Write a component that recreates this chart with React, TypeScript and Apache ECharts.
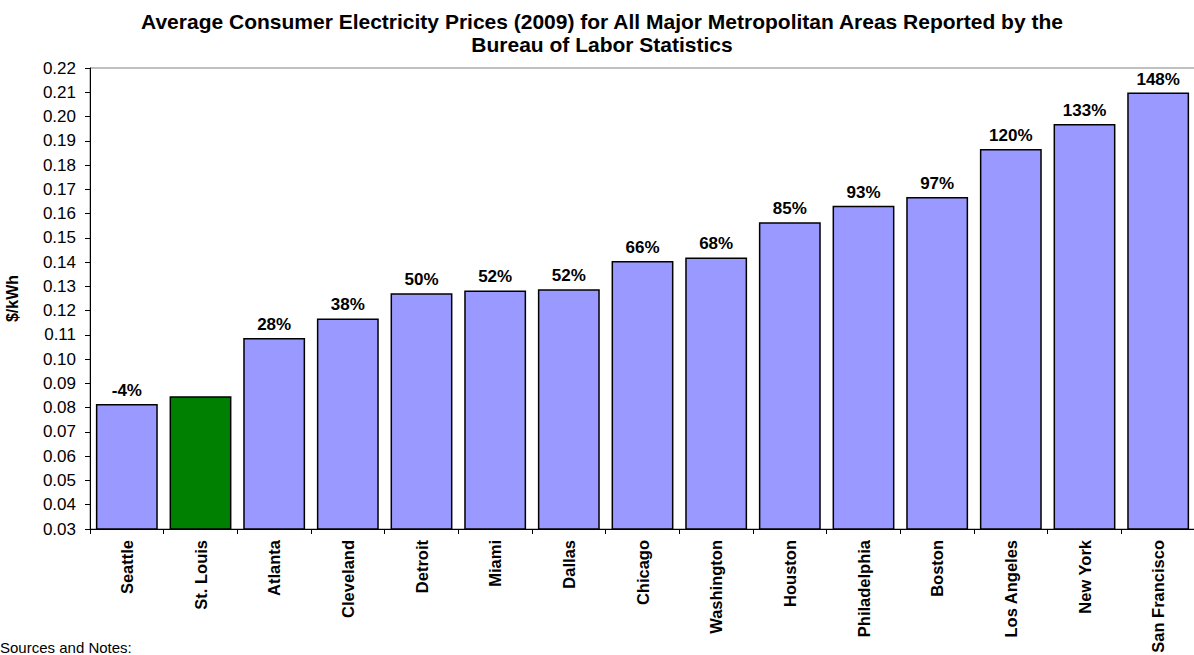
import React, { useEffect, useRef } from "react";
import * as echarts from "echarts";

const cities = [
  "Seattle", "St. Louis", "Atlanta", "Cleveland", "Detroit", "Miami", "Dallas",
  "Chicago", "Washington", "Houston", "Philadelphia", "Boston", "Los Angeles",
  "New York", "San Francisco",
];
const prices = [
  0.0815, 0.0847, 0.1087, 0.1168, 0.1272, 0.1283, 0.1288, 0.1405, 0.1419,
  0.1564, 0.1632, 0.1668, 0.1866, 0.1969, 0.2099,
];
const pctLabels = [
  "-4%", "", "28%", "38%", "50%", "52%", "52%", "66%", "68%", "85%", "93%",
  "97%", "120%", "133%", "148%",
];
const highlightCity = "St. Louis";
const yTicksMin = 0.03;
const yTicksMax = 0.22;
const yTickStep = 0.01;

export default function App() {
  const ref = useRef<HTMLDivElement>(null);
  useEffect(() => {
    if (!ref.current) return;
    const chart = echarts.init(ref.current, undefined, { renderer: "svg" });
    const font = "'Liberation Sans', Arial, sans-serif";
    chart.setOption({
      animation: false,
      backgroundColor: "#ffffff",
      textStyle: { fontFamily: font },
      title: {
        text: "Average Consumer Electricity Prices (2009) for All Major Metropolitan Areas Reported by the\nBureau of Labor Statistics",
        left: 597,
        textAlign: "center",
        top: 5,
        textStyle: {
          fontFamily: font,
          fontSize: 21,
          fontWeight: "bold",
          color: "#000",
          lineHeight: 23,
          align: "center",
        },
      },
      grid: {
        left: 90,
        top: 68,
        width: 1105,
        height: 461,
        show: true,
        borderColor: "#808080",
        borderWidth: 1,
        containLabel: false,
        outerBoundsMode: "none",
      },
      xAxis: {
        type: "category",
        data: cities,
        axisLine: { lineStyle: { color: "#000", width: 1 } },
        axisTick: { show: true, length: 5, lineStyle: { color: "#000" } },
        axisLabel: {
          rotate: 90,
          interval: 0,
          fontFamily: font,
          fontSize: 16.5,
          fontWeight: "bold",
          color: "#000",
          margin: 11,
        },
      },
      yAxis: {
        type: "value",
        min: yTicksMin,
        max: yTicksMax,
        interval: yTickStep,
        name: "$/kWh",
        nameLocation: "middle",
        nameGap: 70,
        nameTextStyle: {
          fontFamily: font,
          fontSize: 16,
          fontWeight: "bold",
          color: "#000",
        },
        axisLine: { show: true, lineStyle: { color: "#000", width: 1 } },
        axisTick: { show: true, length: 5, lineStyle: { color: "#000" } },
        splitLine: { show: false },
        axisLabel: {
          fontFamily: font,
          fontSize: 17,
          color: "#000",
          margin: 14,
          formatter: (v: number) => v.toFixed(2),
        },
      },
      series: [
        {
          type: "bar",
          data: prices.map((v, i) => ({
            value: v,
            itemStyle: {
              color: cities[i] === highlightCity ? "#008000" : "#9999FF",
            },
          })),
          barCategoryGap: "16%",
          itemStyle: { borderColor: "#000", borderWidth: 1.5 },
          label: {
            show: true,
            position: "top",
            distance: 5,
            fontFamily: font,
            fontSize: 17,
            fontWeight: "bold",
            color: "#000",
            formatter: (p: any) => pctLabels[p.dataIndex],
          },
        },
      ],
      graphic: [
        {
          type: "text",
          left: 0,
          top: 640,
          style: {
            text: "Sources and Notes:",
            fontFamily: font,
            fontSize: 15,
            fill: "#000",
          },
        },
      ],
    });
    return () => chart.dispose();
  }, []);
  return (
    <div
      ref={ref}
      style={{ position: "fixed", left: 0, top: 0, width: 1194, height: 655 }}
    />
  );
}
